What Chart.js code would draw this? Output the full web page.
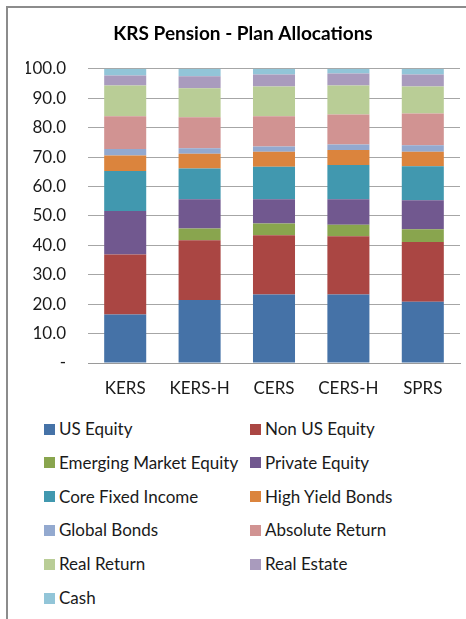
<!DOCTYPE html>
<html>
<head>
<meta charset="utf-8">
<script src="https://cdn.jsdelivr.net/npm/chart.js@4"></script>
<style>
  html, body { margin: 0; padding: 0; background: #fff; }
  #frame { position: relative; width: 466px; height: 619px; overflow: hidden; font-family: Lato, "Liberation Sans", sans-serif; }
  #frame::before { content: ''; position: absolute; left: 6px; top: 6px; right: -4px; bottom: -4px; border-left: 2px solid #8c8c8c; border-top: 2px solid #8c8c8c; }
  #chart-wrap { position: absolute; left: 0; top: 0; width: 466px; height: 410px; }
  #legend .item { position: absolute; display: flex; align-items: center; font-size: 17px; color: #1a1a1a; white-space: nowrap; line-height: 20px; }
  #legend .box { width: 11px; height: 11px; margin-right: 4px; }
</style>
</head>
<body>
<div id="frame">
  <div id="chart-wrap"><canvas id="chart-alloc"></canvas></div>
  <div id="legend"></div>
</div>
<script>
// ค่าโดยประมาณ อ่านจากภาพ (% ของพอร์ต)
const categories = ['KERS', 'KERS-H', 'CERS', 'CERS-H', 'SPRS'];
const seriesNames = ['US Equity', 'Non US Equity', 'Emerging Market Equity', 'Private Equity', 'Core Fixed Income', 'High Yield Bonds', 'Global Bonds', 'Absolute Return', 'Real Return', 'Real Estate', 'Cash'];
const seriesColors = ['#4572a7', '#aa4643', '#89a54e', '#71588f', '#4198af', '#db843d', '#93a9cf', '#d19392', '#b9cd96', '#a99bbd', '#92c5d8'];

const usEquity        = [16.5, 21.4, 23.3, 23.3, 20.8];
const nonUsEquity     = [20.4, 20.3, 20.1, 19.8, 20.3];
const emergingEquity  = [0.0, 4.0, 4.0, 3.9, 4.4];
const privateEquity   = [14.8, 10.0, 8.3, 8.7, 9.8];
const coreFixedIncome = [13.6, 10.4, 11.0, 11.6, 11.6];
const highYieldBonds  = [5.2, 5.0, 5.1, 5.1, 4.9];
const globalBonds     = [2.2, 1.9, 1.8, 1.9, 2.2];
const absoluteReturn  = [11.2, 10.5, 10.3, 10.2, 10.8];
const realReturn      = [10.4, 9.9, 10.1, 9.8, 9.2];
const realEstate      = [3.4, 4.1, 4.1, 4.1, 4.1];
const cash            = [2.3, 2.5, 1.9, 1.6, 1.9];

const seriesValues = [usEquity, nonUsEquity, emergingEquity, privateEquity, coreFixedIncome, highYieldBonds, globalBonds, absoluteReturn, realReturn, realEstate, cash];

const yTicks = [0, 10, 20, 30, 40, 50, 60, 70, 80, 90, 100];

const FONT = 'Lato';

const chart = new Chart(document.getElementById('chart-alloc'), {
  type: 'bar',
  data: {
    labels: categories,
    datasets: seriesNames.map((name, i) => ({
      label: name,
      data: seriesValues[i],
      backgroundColor: seriesColors[i],
      borderWidth: 0,
      categoryPercentage: 1,
      barPercentage: 0.565
    }))
  },
  options: {
    responsive: true,
    maintainAspectRatio: false,
    animation: false,
    layout: { padding: { left: 26, right: 6, top: 0, bottom: 0 } },
    plugins: {
      legend: { display: false },
      tooltip: { enabled: false },
      title: {
        display: true,
        text: 'KRS Pension - Plan Allocations',
        color: '#000',
        font: { family: FONT, size: 19, weight: 'bold' },
        padding: { top: 22, bottom: 24 }
      }
    },
    scales: {
      x: {
        stacked: true,
        grid: { display: false, drawTicks: false },
        border: { color: '#9a9a9a', width: 1 },
        ticks: { color: '#1a1a1a', padding: 15, font: { family: FONT, size: 17 } },
        afterFit: (scale) => { scale.height = 47; }
      },
      y: {
        stacked: true,
        min: 0,
        max: 100,
        afterBuildTicks: (scale) => { scale.ticks = yTicks.map((v) => ({ value: v })); },
        grid: { color: '#a6a6a6', drawTicks: false },
        border: { display: false },
        ticks: {
          color: '#1a1a1a',
          padding: 22,
          font: { family: FONT, size: 17 },
          callback: (v) => (v === 0 ? '-' : Number(v).toFixed(1))
        },
        // แกน y กว้างคงที่ให้พื้นที่กราฟเริ่มที่ x=88
        afterFit: (scale) => { scale.width = 62; }
      }
    }
  }
});

// legend สองคอลัมน์แบบ Excel
const legendEl = document.getElementById('legend');
legendEl.innerHTML = seriesNames.map((name, i) => {
  const col = i % 2;
  const row = Math.floor(i / 2);
  const left = 44 + col * 206;
  const top = 429 + row * 33.8 - 10;
  return `<div class="item" style="left:${left}px;top:${top}px"><span class="box" style="background:${seriesColors[i]}"></span>${name}</div>`;
}).join('');
</script>
</body>
</html>
